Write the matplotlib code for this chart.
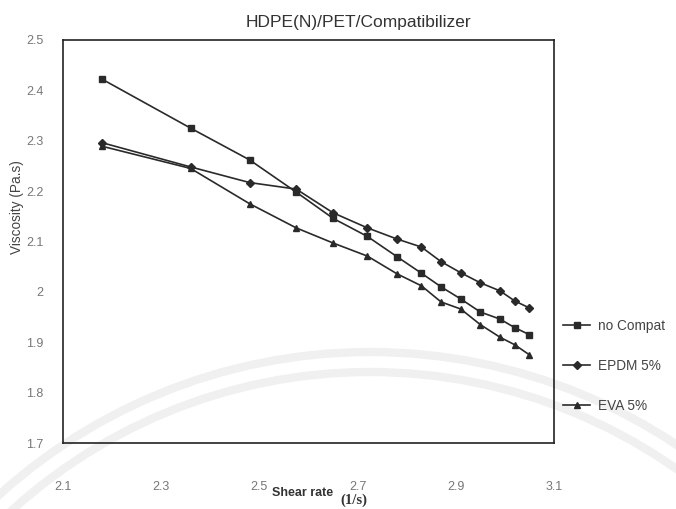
import matplotlib.pyplot as plt
from matplotlib.patches import Arc
from matplotlib.transforms import Affine2D

# log shear rate (1/s) and log viscosity (Pa.s)
shear_rate = [2.18, 2.36, 2.48, 2.575, 2.65, 2.72, 2.78, 2.83, 2.87, 2.91, 2.95, 2.99, 3.02, 3.05]
no_compat = [2.422, 2.325, 2.262, 2.198, 2.146, 2.11, 2.07, 2.037, 2.01, 1.986, 1.96, 1.946, 1.929, 1.915]
epdm_5 = [2.296, 2.248, 2.217, 2.204, 2.157, 2.127, 2.105, 2.089, 2.06, 2.038, 2.018, 2.002, 1.982, 1.968]
eva_5 = [2.289, 2.245, 2.175, 2.127, 2.097, 2.071, 2.036, 2.012, 1.98, 1.966, 1.935, 1.91, 1.895, 1.875]

x_ticks = [2.1, 2.3, 2.5, 2.7, 2.9, 3.1]
x_labels = ['2.1', '2.3', '2.5', '2.7', '2.9', '3.1']
y_ticks = [1.7, 1.8, 1.9, 2.0, 2.1, 2.2, 2.3, 2.4, 2.5]
y_labels = ['1.7', '1.8', '1.9', '2', '2.1', '2.2', '2.3', '2.4', '2.5']

plt.rcParams['font.family'] = ['Liberation Sans', 'DejaVu Sans']

W, H = 676, 509
fig = plt.figure(figsize=(W / 100, H / 100), dpi=100)
fig.patch.set_facecolor('white')

# faint seal in the background, pixel coords with y from the top
fig_px = Affine2D().scale(1 / W, -1 / H).translate(0, 1) + fig.transFigure
for r in (553, 533):
    arc = Arc((370, 905), 2 * r, 2 * r, theta1=180, theta2=360, transform=fig_px,
              color='#f0f0f0', lw=6, zorder=-1)
    fig.patches.append(arc)

ax = fig.add_axes([63 / W, 1 - 443 / H, 491 / W, 403 / H])
ax.patch.set_alpha(0)

ax.plot(shear_rate, no_compat, marker='s', markersize=4.5, color='#2a2a2a', lw=1.2,
        label='no Compat')
ax.plot(shear_rate, epdm_5, marker='D', markersize=3.8, color='#2a2a2a', lw=1.2,
        label='EPDM 5%')
ax.plot(shear_rate, eva_5, marker='^', markersize=4.5, color='#2a2a2a', lw=1.2,
        label='EVA 5%')

ax.set_xlim(2.1, 3.1)
ax.set_ylim(1.7, 2.5)
ax.set_xticks(x_ticks)
ax.set_xticklabels(x_labels)
ax.set_yticks(y_ticks)
ax.set_yticklabels(y_labels)
ax.tick_params(axis='x', length=0, pad=27, labelsize=9, labelcolor='#777777')
ax.tick_params(axis='y', length=0, pad=14, labelsize=9, labelcolor='#777777')
for sp in ax.spines.values():
    sp.set_linewidth(1.2)
    sp.set_color('#222222')

fig.text(358 / W, 1 - 23 / H, 'HDPE(N)/PET/Compatibilizer', ha='center', va='center',
         fontsize=12.5, color='#333333')
fig.text(17 / W, 1 - 207 / H, 'Viscosity (Pa.s)', rotation=90, ha='center', va='center',
         fontsize=9.8, color='#444444')
fig.text(272 / W, 1 - 493 / H, 'Shear rate', ha='left', va='center',
         fontsize=9, fontweight='bold', color='#333333')
fig.text(340 / W, 1 - 500 / H, '(1/s)', ha='left', va='center', family='Liberation Serif',
         fontsize=10.5, fontweight='bold', color='#333333')

ax.legend(loc='center left', bbox_to_anchor=(563 / W, 1 - 366 / H), bbox_transform=fig.transFigure,
          frameon=False, fontsize=9.8, labelcolor='#444444', handlelength=2.0, handletextpad=0.6,
          labelspacing=1.9, borderpad=0, borderaxespad=0)

fig.savefig('out.png', dpi=100)
